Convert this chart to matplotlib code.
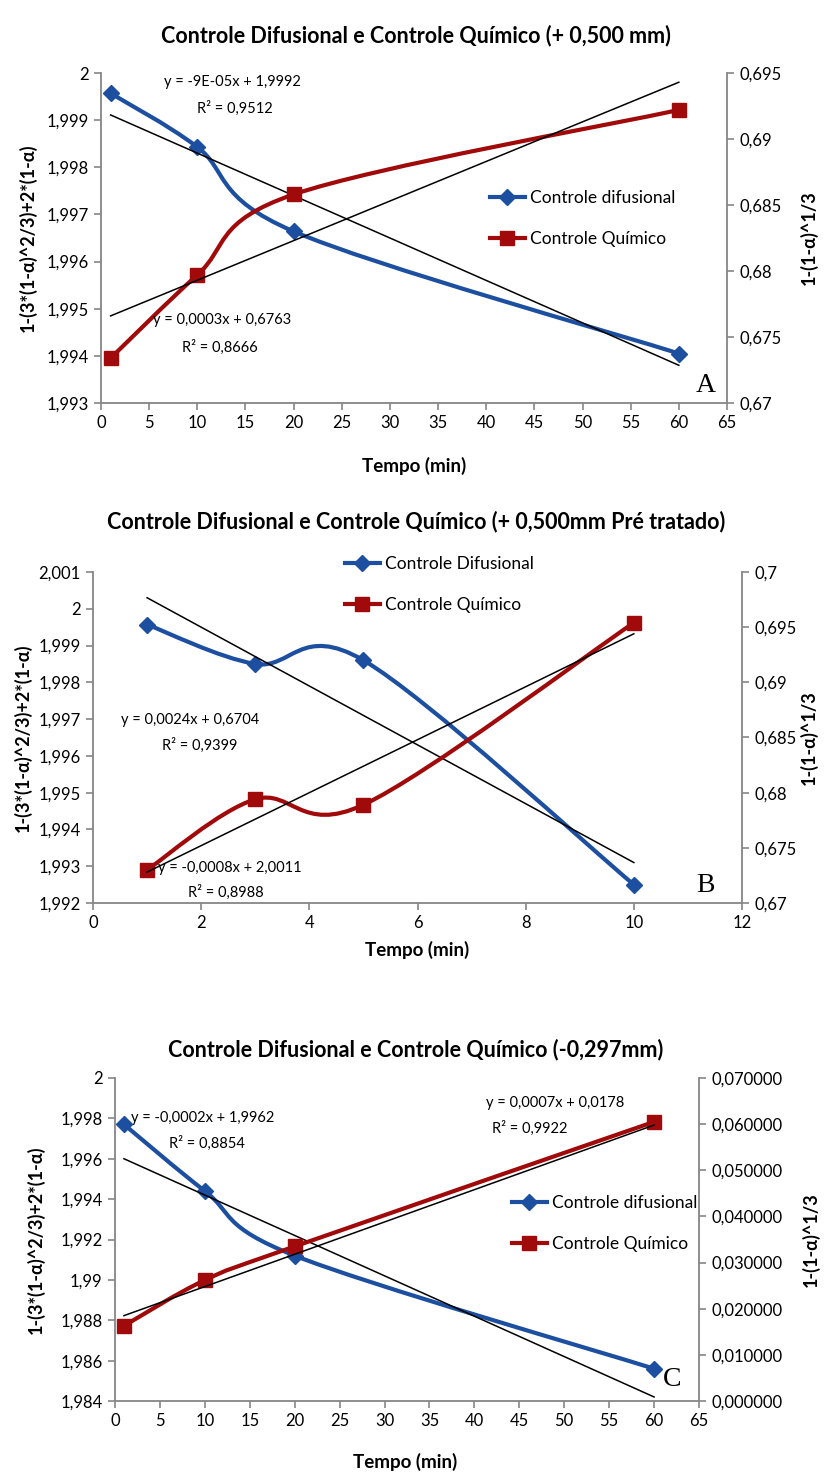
import numpy as np
import matplotlib
matplotlib.use("Agg")
import matplotlib.pyplot as plt
from matplotlib.path import Path
from matplotlib.patches import PathPatch
from matplotlib.lines import Line2D

plt.rcParams['font.family'] = ['Lato', 'DejaVu Sans']

W, H = 831, 1481
BLUE = '#1c4fa0'
RED = '#a00a0a'
GREY = '#868686'

# Painel A (+ 0,500 mm)
a_tempo = [1, 10, 20, 60]
a_difus = [1.99957, 1.99843, 1.99664, 1.99405]
a_quim = [0.6734, 0.6797, 0.6858, 0.6922]
a_fit_difus = (-9e-05, 1.9992)
a_fit_quim = (0.0003, 0.6763)
a_xticks = list(range(0, 70, 5))
a_yticks = [1.993, 1.994, 1.995, 1.996, 1.997, 1.998, 1.999, 2.0]
a_ylabels = ['1,993', '1,994', '1,995', '1,996', '1,997', '1,998', '1,999', '2']
a_y2ticks = [0.67, 0.675, 0.68, 0.685, 0.69, 0.695]
a_y2labels = ['0,67', '0,675', '0,68', '0,685', '0,69', '0,695']

# Painel B (+ 0,500 mm pre tratado)
b_tempo = [1, 3, 5, 10]
b_difus = [1.99957, 1.9985, 1.9986, 1.9925]
b_quim = [0.673, 0.6794, 0.6789, 0.6954]
b_fit_difus = (-0.0008, 2.0011)
b_fit_quim = (0.0024, 0.6704)
b_xticks = list(range(0, 14, 2))
b_yticks = [1.992, 1.993, 1.994, 1.995, 1.996, 1.997, 1.998, 1.999, 2.0, 2.001]
b_ylabels = ['1,992', '1,993', '1,994', '1,995', '1,996', '1,997', '1,998', '1,999', '2', '2,001']
b_y2ticks = [0.67, 0.675, 0.68, 0.685, 0.69, 0.695, 0.7]
b_y2labels = ['0,67', '0,675', '0,68', '0,685', '0,69', '0,695', '0,7']

# Painel C (-0,297 mm)
c_tempo = [1, 10, 20, 60]
c_difus = [1.9977, 1.9944, 1.9912, 1.9856]
c_quim = [0.0163, 0.0262, 0.0335, 0.0605]
c_fit_difus = (-0.0002, 1.9962)
c_fit_quim = (0.0007, 0.0178)
c_xticks = list(range(0, 70, 5))
c_yticks = [1.984, 1.986, 1.988, 1.99, 1.992, 1.994, 1.996, 1.998, 2.0]
c_ylabels = ['1,984', '1,986', '1,988', '1,99', '1,992', '1,994', '1,996', '1,998', '2']
c_y2ticks = [0.0, 0.01, 0.02, 0.03, 0.04, 0.05, 0.06, 0.07]
c_y2labels = ['0,000000', '0,010000', '0,020000', '0,030000', '0,040000',
              '0,050000', '0,060000', '0,070000']

YLAB_L = '1-(3*(1-α)^2/3)+2*(1-α)'
YLAB_R = '1-(1-α)^1/3'

fig = plt.figure(figsize=(W / 100, H / 100), dpi=100)


def fx(px):
    return px / W


def fy(py):
    return 1 - py / H


def smooth_path(x, y, t=1 / 6):
    # excel-like smoothed line as cubic bezier through the points
    p = np.column_stack([x, y]).astype(float)
    n = len(p)
    verts = [p[0]]
    codes = [Path.MOVETO]
    for i in range(n - 1):
        p0 = p[i - 1] if i > 0 else p[i]
        p3 = p[i + 2] if i + 2 < n else p[i + 1]
        c1 = p[i] + (p[i + 1] - p0) * t
        c2 = p[i + 1] - (p3 - p[i]) * t
        verts += [c1, c2, p[i + 1]]
        codes += [Path.CURVE4] * 3
    return Path(verts, codes)


def panel(box, tempo, difus, quim, fit_d, fit_q, xlim, xticks,
          ylim, yticks, ylabels, y2lim, y2ticks, y2labels, ylab_x, y2lab_x):
    l, r, t, b = box
    ax = fig.add_axes([fx(l), fy(b), (r - l) / W, (b - t) / H])
    ax2 = ax.twinx()

    ax.add_patch(PathPatch(smooth_path(tempo, difus), fill=False, edgecolor=BLUE,
                           lw=3, capstyle='round', zorder=2))
    ax.plot(tempo, difus, ls='none', marker='D', ms=8, color=BLUE, zorder=3)
    xx = np.array([tempo[0], tempo[-1]], dtype=float)
    ax.plot(xx, fit_d[0] * xx + fit_d[1], color='black', lw=1.1, zorder=4)

    ax2.add_patch(PathPatch(smooth_path(tempo, quim), fill=False, edgecolor=RED,
                            lw=3, capstyle='round', zorder=2))
    ax2.plot(tempo, quim, ls='none', marker='s', ms=10, color=RED, zorder=3)
    ax2.plot(xx, fit_q[0] * xx + fit_q[1], color='black', lw=1.1, zorder=4)

    ax.set_xlim(*xlim)
    ax.set_xticks(xticks)
    ax.set_ylim(*ylim)
    ax.set_yticks(yticks)
    ax.set_yticklabels(ylabels)
    ax2.set_ylim(*y2lim)
    ax2.set_yticks(y2ticks)
    ax2.set_yticklabels(y2labels)

    for a in (ax, ax2):
        for s in a.spines.values():
            s.set_color(GREY)
            s.set_linewidth(1.3)
        a.spines['top'].set_visible(False)
        a.tick_params(direction='out', length=5, width=1.2, color=GREY,
                      labelsize=12, pad=4)
    ax.spines['right'].set_visible(False)
    ax2.spines['left'].set_visible(False)
    ax2.spines['bottom'].set_visible(False)

    ax.set_ylabel(YLAB_L, fontsize=13, fontweight='bold')
    ax.yaxis.set_label_coords((ylab_x - l) / (r - l), 0.5)
    ax2.set_ylabel(YLAB_R, fontsize=13, fontweight='bold')
    ax2.yaxis.set_label_coords((y2lab_x - l) / (r - l), 0.5)
    return ax, ax2


def legend(ax2, x, y, labels):
    handles = [Line2D([], [], color=BLUE, lw=3, marker='D', ms=8),
               Line2D([], [], color=RED, lw=3, marker='s', ms=10)]
    ax2.legend(handles, labels, loc='upper left', bbox_to_anchor=(fx(x), fy(y)),
               bbox_transform=fig.transFigure, frameon=False, fontsize=12.5,
               handlelength=2.0, handletextpad=0.3, labelspacing=1.42,
               borderpad=0, borderaxespad=0)


def txt(x, y, s, size=10.5, weight='normal'):
    fig.text(fx(x), fy(y), s, ha='center', va='center', fontsize=size,
             fontweight=weight)


def title(y, s):
    fig.text(fx(416), fy(y), s, ha='center', va='center', fontsize=15.5,
             fontweight='bold')


def letter(x, y, s):
    fig.text(fx(x), fy(y), s, ha='center', va='center', fontsize=20,
             family='Liberation Serif')


# ---- A ----
axA, axA2 = panel((101, 727, 73, 403), a_tempo, a_difus, a_quim, a_fit_difus, a_fit_quim,
                  (0, 65), a_xticks, (1.993, 2.0), a_yticks, a_ylabels,
                  (0.67, 0.695), a_y2ticks, a_y2labels, 37, 800)
title(36, 'Controle Difusional e Controle Químico (+ 0,500 mm)')
legend(axA2, 490, 190, ['Controle difusional', 'Controle Químico'])
txt(232, 82, 'y = -9E-05x + 1,9992')
txt(235, 108, 'R² = 0,9512')
txt(222, 320, 'y = 0,0003x + 0,6763')
txt(220, 347, 'R² = 0,8666')
letter(706, 385, 'A')
txt(414, 466, 'Tempo (min)', 13.5, 'bold')

# ---- B ----
axB, axB2 = panel((93, 742, 572, 903), b_tempo, b_difus, b_quim, b_fit_difus, b_fit_quim,
                  (0, 12), b_xticks, (1.992, 2.001), b_yticks, b_ylabels,
                  (0.67, 0.7), b_y2ticks, b_y2labels, 32, 800)
title(522, 'Controle Difusional e Controle Químico (+ 0,500mm Pré tratado)')
legend(axB2, 345, 556, ['Controle Difusional', 'Controle Químico'])
txt(190, 720, 'y = 0,0024x + 0,6704')
txt(200, 745, 'R² = 0,9399')
txt(230, 868, 'y = -0,0008x + 2,0011')
txt(226, 892, 'R² = 0,8988')
letter(705, 885, 'B')
txt(417, 950, 'Tempo (min)', 13.5, 'bold')

# ---- C ----
axC, axC2 = panel((115, 699, 1078, 1401), c_tempo, c_difus, c_quim, c_fit_difus, c_fit_quim,
                  (0, 65), c_xticks, (1.984, 2.0), c_yticks, c_ylabels,
                  (0.0, 0.07), c_y2ticks, c_y2labels, 45, 802)
title(1050, 'Controle Difusional e Controle Químico (-0,297mm)')
legend(axC2, 512, 1195, ['Controle difusional', 'Controle Químico'])
txt(203, 1118, 'y = -0,0002x + 1,9962')
txt(207, 1143, 'R² = 0,8854')
txt(555, 1103, 'y = 0,0007x + 0,0178')
txt(530, 1128, 'R² = 0,9922')
letter(672, 1380, 'C')
txt(405, 1462, 'Tempo (min)', 13.5, 'bold')

fig.savefig('out.png', dpi=100)
